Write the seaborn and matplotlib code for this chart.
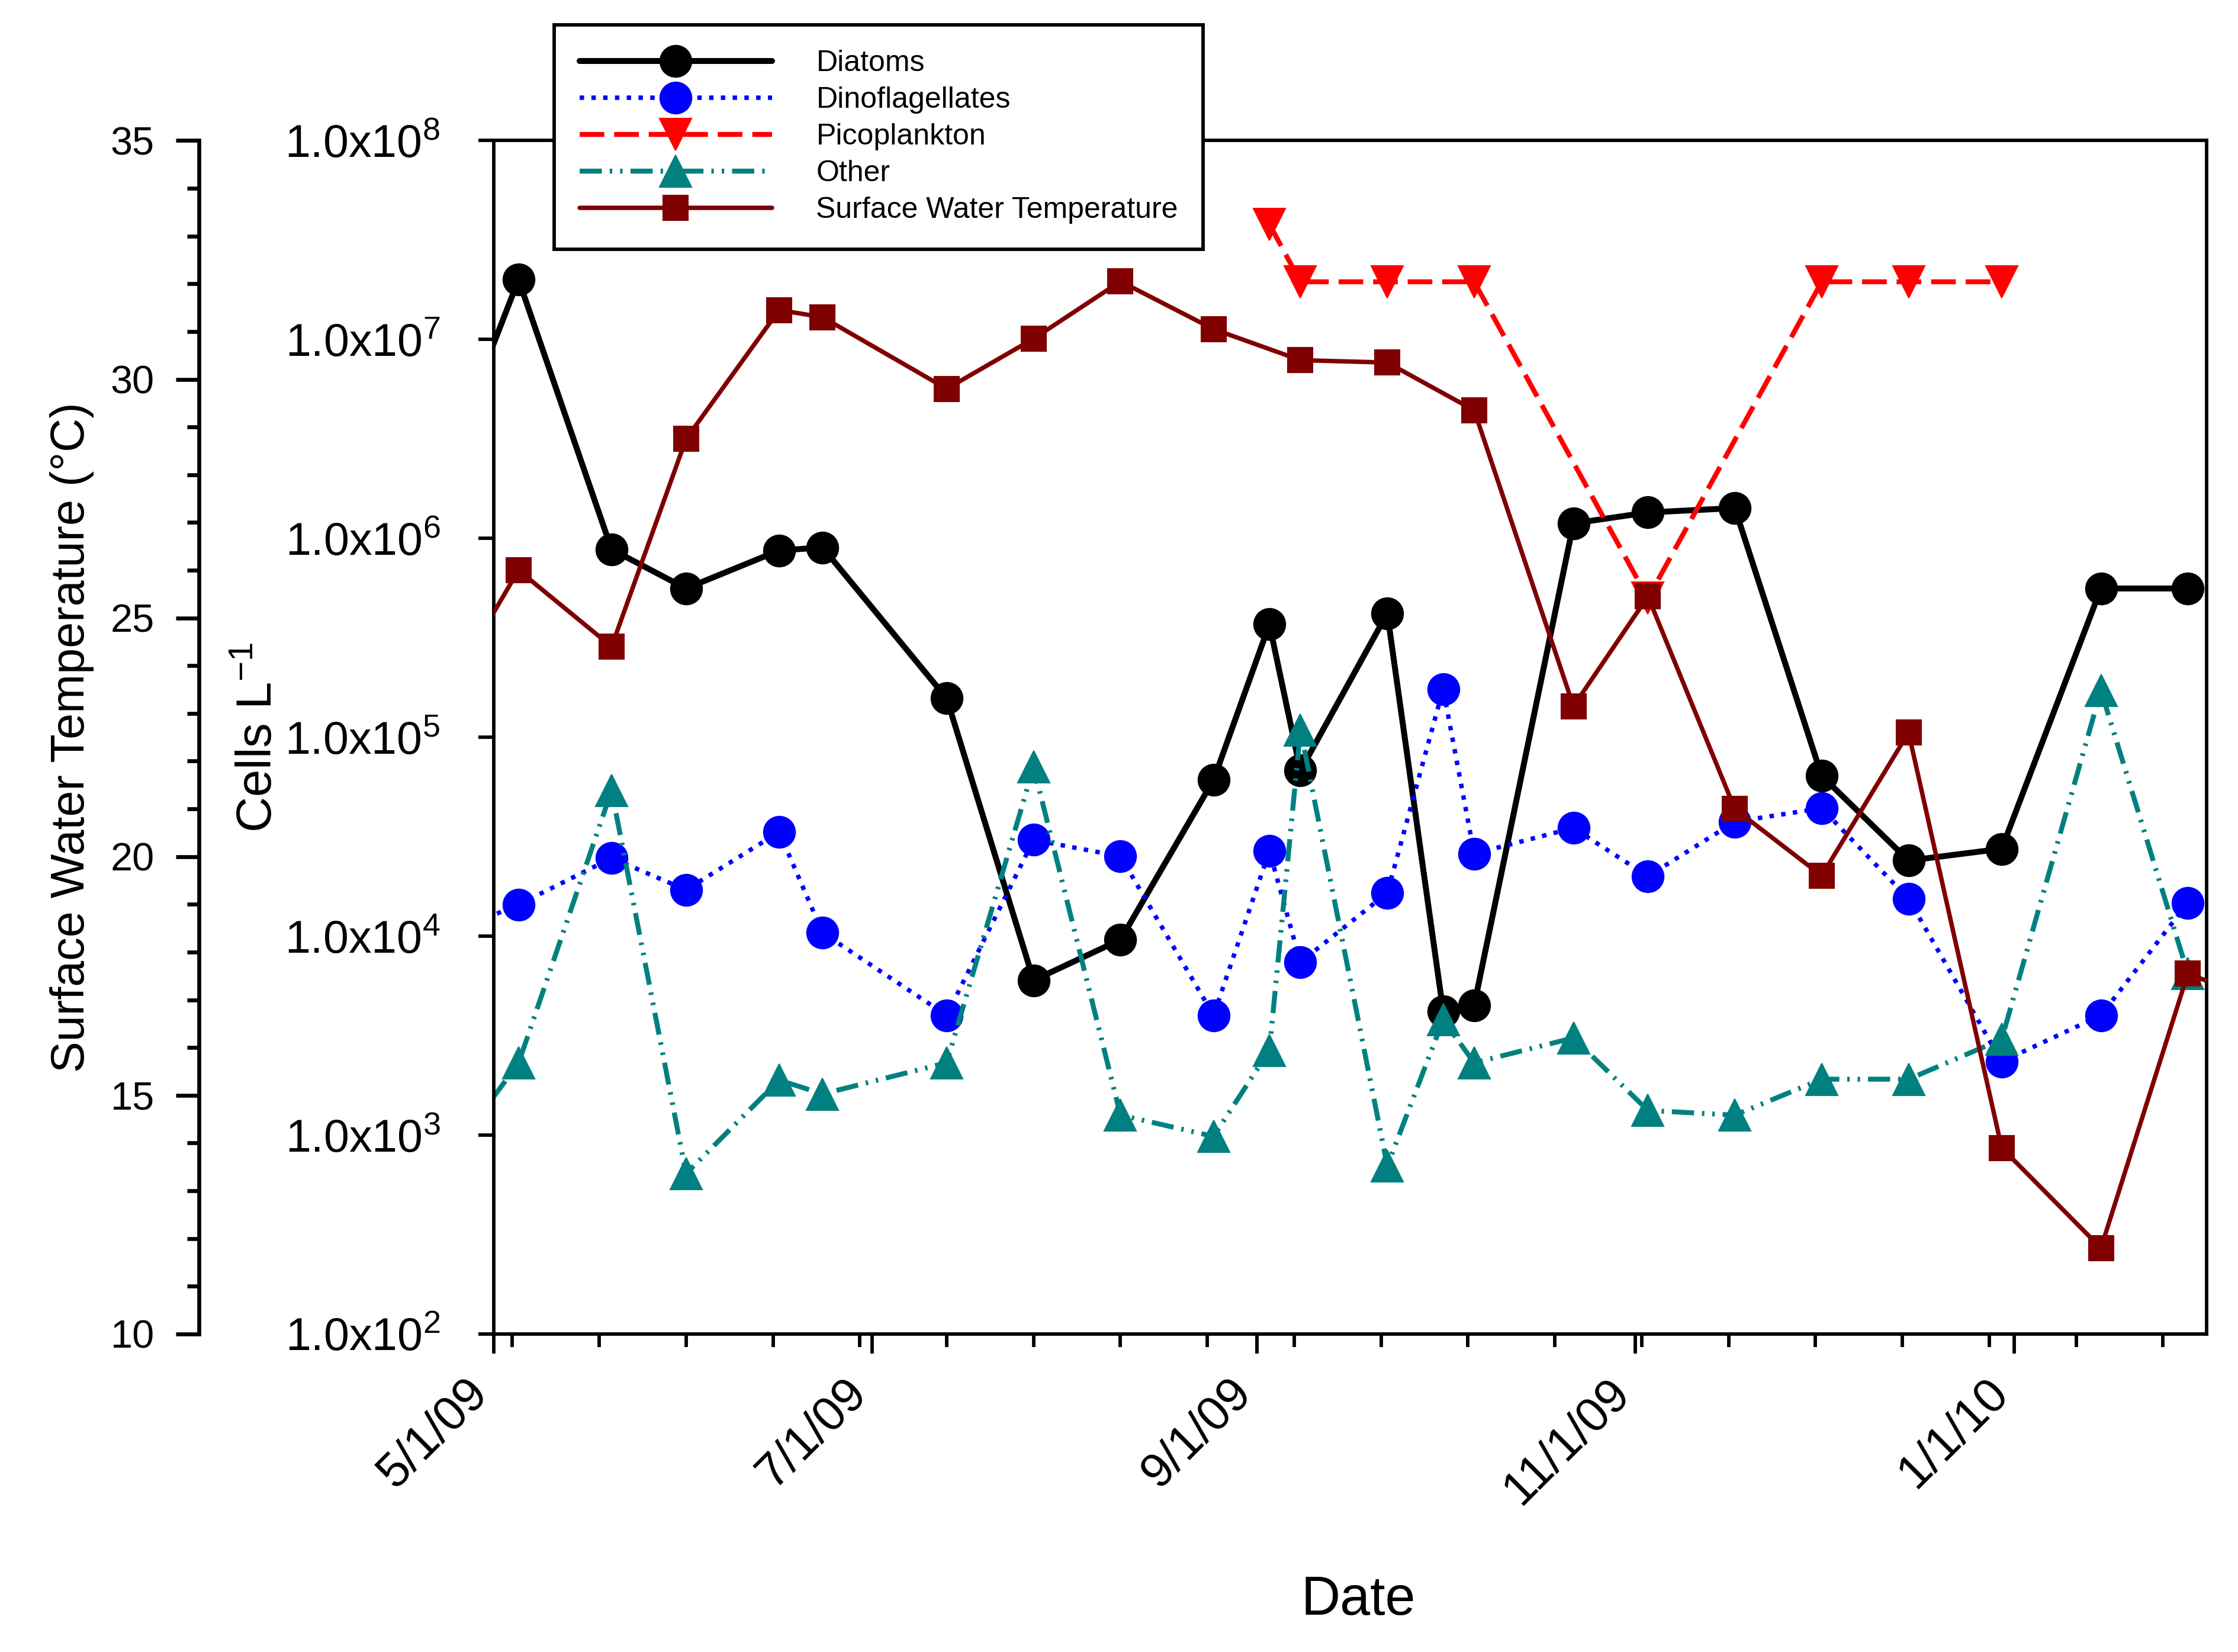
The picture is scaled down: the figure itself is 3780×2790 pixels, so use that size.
import numpy as np
import pandas as pd
import matplotlib
matplotlib.use('Agg')
import matplotlib.pyplot as plt
import matplotlib.dates as mdates
from matplotlib.ticker import FixedLocator, FuncFormatter, MultipleLocator, NullLocator, LogLocator
from matplotlib.transforms import ScaledTranslation
import seaborn as sns

sns.set_theme(style='ticks')
plt.rcParams['font.family'] = ['Liberation Sans', 'DejaVu Sans']
plt.rcParams['mathtext.fontset'] = 'custom'
plt.rcParams['mathtext.rm'] = 'Liberation Sans'
plt.rcParams['mathtext.it'] = 'Liberation Sans:italic'
plt.rcParams['mathtext.bf'] = 'Liberation Sans:bold'
for key in ['text.color', 'axes.labelcolor', 'xtick.color', 'ytick.color', 'axes.edgecolor']:
    plt.rcParams[key] = 'black'

# sampling dates (first and last fall just outside the plotted window)
dates = pd.to_datetime([
    '2009-04-21', '2009-05-05', '2009-05-20', '2009-06-01', '2009-06-16',
    '2009-06-23', '2009-07-13', '2009-07-27', '2009-08-10', '2009-08-25',
    '2009-09-03', '2009-09-08', '2009-09-22', '2009-10-01', '2009-10-06',
    '2009-10-22', '2009-11-03', '2009-11-17', '2009-12-01', '2009-12-15',
    '2009-12-30', '2010-01-15', '2010-01-29', '2010-02-11'])

nan = np.nan
diatoms = [1.5e6, 2.0e7, 8.8e5, 5.6e5, 8.7e5, 9.0e5, 1.57e5, 6.0e3, 9.6e3, 6.1e4,
           3.7e5, 6.8e4, 4.2e5, 4.2e3, 4.5e3, 1.19e6, 1.35e6, 1.42e6, 6.4e4, 2.4e4,
           2.75e4, 5.6e5, 5.6e5, nan]
dinoflagellates = [9.5e3, 1.44e4, 2.47e4, 1.71e4, 3.34e4, 1.04e4, 4.0e3, 3.05e4, 2.52e4, 4.0e3,
                   2.68e4, 7.4e3, 1.65e4, 1.75e5, 2.6e4, 3.5e4, 2.0e4, 3.76e4, 4.4e4, 1.54e4,
                   2.34e3, 4.0e3, 1.47e4, nan]
picoplankton = [nan, nan, nan, nan, nan, nan, nan, nan, nan, nan,
                3.8e7, 1.95e7, 1.95e7, nan, 1.95e7, nan, 5.0e5, nan, 1.95e7, 1.95e7,
                1.95e7, nan, nan, nan]
other = [590, 2.3e3, 5.4e4, 640, 1.89e3, 1.61e3, 2.31e3, 7.1e4, 1.26e3, 985,
         2.67e3, 1.09e5, 700, 3.8e3, 2.31e3, 3.08e3, 1.33e3, 1.26e3, 1.91e3, 1.91e3,
         3.03e3, 1.72e5, 6.5e3, nan]
temperature = [22.9, 26.0, 24.4, 28.75, 31.45, 31.3, 29.8, 30.85, 32.05, 31.05,
               nan, 30.4, 30.35, nan, 29.35, 23.15, 25.45, 21.0, 19.6, 22.6,
               13.9, 11.8, 17.55, 16.9]

df = pd.DataFrame({'Date': dates, 'Diatoms': diatoms, 'Dinoflagellates': dinoflagellates,
                   'Picoplankton': picoplankton, 'Other': other,
                   'Surface Water Temperature': temperature})

fig = plt.figure(figsize=(12.6, 9.3), dpi=300)
ax = fig.add_axes([0.2206, 0.1925, 0.7653, 0.7224])
ax2 = ax.twinx()

series = [
    ('Diatoms', 'black', 'o', 12.8, 2.4, '-'),
    ('Dinoflagellates', '#0000ff', 'o', 12.8, 1.8, ':'),
    ('Picoplankton', '#ff0000', 'v', 13, 2.0, (0, (5, 2))),
    ('Other', '#008080', '^', 13, 2.0, (0, (4.5, 1.6, 0.5, 1.6, 0.5, 1.6))),
]
for name, col, mk, ms, lw, ls in series:
    d = df[['Date', name]].dropna()
    sns.lineplot(x=d['Date'], y=d[name], ax=ax, color=col, marker=mk, markersize=ms,
                 markeredgecolor=col, markeredgewidth=0.5, linewidth=lw, linestyle=ls,
                 label=name, legend=False, sort=False, estimator=None)

d = df[['Date', 'Surface Water Temperature']].dropna()
sns.lineplot(x=d['Date'], y=d['Surface Water Temperature'], ax=ax2, color='#800000',
             marker='s', markersize=10, markeredgecolor='#800000', markeredgewidth=0.5,
             linewidth=1.8, label='Surface Water Temperature', legend=False,
             sort=False, estimator=None)

# x axis
ax.set_xlim(pd.Timestamp('2009-05-01'), pd.Timestamp('2010-02-01'))
ax.xaxis.set_major_locator(mdates.MonthLocator(bymonth=[1, 5, 7, 9, 11], bymonthday=1))
ax.xaxis.set_major_formatter(FuncFormatter(
    lambda v, pos: '{0.month}/{0.day}/{0:%y}'.format(mdates.num2date(v))))
minor_dates = pd.date_range('2009-05-04', '2010-02-01', freq='14D')
ax.xaxis.set_minor_locator(FixedLocator(mdates.date2num(minor_dates)))
ax.tick_params(axis='x', which='major', direction='out', length=8, width=1.4,
               labelsize=19.5, pad=13)
ax.tick_params(axis='x', which='minor', direction='out', length=5.3, width=1.4)
shift = ScaledTranslation(-5.2 / 72, 0, fig.dpi_scale_trans)
for lbl in ax.get_xticklabels():
    lbl.set_rotation(45)
    lbl.set_ha('right')
    lbl.set_va('center')
    lbl.set_rotation_mode('anchor')
    lbl.set_transform(lbl.get_transform() + shift)

# log axis
ax.set_yscale('log')
ax.set_ylim(1e2, 1e8)
ax.yaxis.set_major_locator(LogLocator(base=10, numticks=10))
ax.yaxis.set_minor_locator(NullLocator())
ax.yaxis.set_major_formatter(FuncFormatter(
    lambda v, pos: r'$\mathregular{1.0x10^{%d}}$' % int(round(np.log10(v)))))
ax.tick_params(axis='y', which='major', direction='out', length=6.2, width=1.4,
               labelsize=18.5, pad=15.5)

# temperature axis on the far left
ax2.set_ylim(10, 35)
ax2.yaxis.set_major_locator(MultipleLocator(5))
ax2.yaxis.set_minor_locator(MultipleLocator(1))
ax2.yaxis.set_ticks_position('left')
ax2.yaxis.set_label_position('left')
ax2.spines['left'].set_position(('outward', 119.5))
ax2.spines['left'].set_visible(True)
ax2.spines['left'].set_linewidth(1.6)
ax2.spines['left'].set_color('black')
for s in ['top', 'bottom', 'right']:
    ax2.spines[s].set_visible(False)
ax2.tick_params(axis='y', which='major', direction='out', length=9.4, width=1.6,
                labelsize=16, pad=8.6)
ax2.tick_params(axis='y', which='minor', direction='out', length=4.8, width=1.6)

for s in ax.spines.values():
    s.set_visible(True)
    s.set_color('black')
    s.set_linewidth(1.4)

ax.set_xlabel('Date', fontsize=22)
ax.xaxis.set_label_coords(0.505, -0.202)
ax.set_ylabel(r'Cells L$^{\mathregular{-1}}$', fontsize=20)
ax.yaxis.set_label_coords(-0.1237, 0.5)
ax2.set_ylabel('Surface Water Temperature (°C)', fontsize=19)
ax2.yaxis.set_label_coords(-0.2333, 0.5)

h1, l1 = ax.get_legend_handles_labels()
h2, l2 = ax2.get_legend_handles_labels()
leg = ax2.legend(h1 + h2, l1 + l2, loc='upper left',
                 bbox_to_anchor=(936 / 3780, 1 - 42 / 2790), bbox_transform=fig.transFigure,
                 borderaxespad=0, fontsize=12, handlelength=6.5, handletextpad=1.5,
                 labelspacing=0.32, borderpad=0.85, numpoints=1, fancybox=False,
                 framealpha=1, edgecolor='black')
leg.get_frame().set_linewidth(1.4)
leg.set_zorder(10)

fig.savefig('out.png', dpi=300)
